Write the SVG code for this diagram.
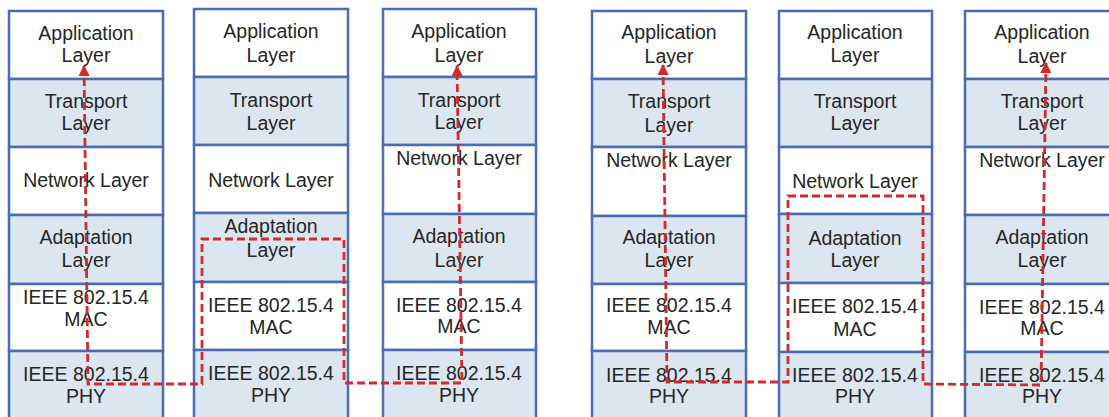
<svg xmlns="http://www.w3.org/2000/svg" width="1109" height="417" viewBox="0 0 1109 417">
  <style>
    .bg { fill: #ffffff; }
    .row { fill: #ffffff; stroke: #4a6cb3; stroke-width: 2.5; }
    .row.shade { fill: #dce6f1; }
    .lbl { font-family: "Liberation Sans", Arial, sans-serif; font-size: 19.5px; fill: #262626; text-anchor: middle; }
    .route { fill: none; stroke: #d42a2a; stroke-width: 2.8; stroke-dasharray: 8 4; }
  </style>
  <defs>
    <marker id="tip" viewBox="0 0 10 10" refX="9" refY="5" markerWidth="4" markerHeight="4" markerUnits="strokeWidth" orient="auto-start-reverse">
      <path d="M0,0 L10,5 L0,10 Z" fill="#d42a2a"/>
    </marker>
  </defs>
  <rect class="bg" x="0" y="0" width="1109" height="417"/>

  <!-- Stack 1: end host -->
  <g id="stack-host-a">
    <rect class="row" x="9" y="11" width="154" height="68"/>
    <rect class="row shade" x="9" y="79" width="154" height="68"/>
    <rect class="row" x="9" y="147" width="154" height="68"/>
    <rect class="row shade" x="9" y="215" width="154" height="69"/>
    <rect class="row" x="9" y="284" width="154" height="67"/>
    <rect class="row shade" x="9" y="351" width="154" height="80"/>
    <text class="lbl" x="86" y="40">Application</text>
    <text class="lbl" x="86" y="62">Layer</text>
    <text class="lbl" x="86" y="108">Transport</text>
    <text class="lbl" x="86" y="130">Layer</text>
    <text class="lbl" x="86" y="187">Network Layer</text>
    <text class="lbl" x="86" y="244">Adaptation</text>
    <text class="lbl" x="86" y="267">Layer</text>
    <text class="lbl" x="86" y="304">IEEE 802.15.4</text>
    <text class="lbl" x="86" y="326">MAC</text>
    <text class="lbl" x="86" y="381">IEEE 802.15.4</text>
    <text class="lbl" x="86" y="403">PHY</text>
  </g>

  <!-- Stack 2: mesh-under forwarder -->
  <g id="stack-mesh-under">
    <rect class="row" x="194" y="9" width="154" height="68"/>
    <rect class="row shade" x="194" y="77" width="154" height="68"/>
    <rect class="row" x="194" y="145" width="154" height="68"/>
    <rect class="row shade" x="194" y="213" width="154" height="69"/>
    <rect class="row" x="194" y="282" width="154" height="68"/>
    <rect class="row shade" x="194" y="350" width="154" height="80"/>
    <text class="lbl" x="271" y="38">Application</text>
    <text class="lbl" x="271" y="62">Layer</text>
    <text class="lbl" x="271" y="107">Transport</text>
    <text class="lbl" x="271" y="130">Layer</text>
    <text class="lbl" x="271" y="187">Network Layer</text>
    <text class="lbl" x="271" y="233">Adaptation</text>
    <text class="lbl" x="271" y="257">Layer</text>
    <text class="lbl" x="271" y="312">IEEE 802.15.4</text>
    <text class="lbl" x="271" y="334">MAC</text>
    <text class="lbl" x="271" y="380">IEEE 802.15.4</text>
    <text class="lbl" x="271" y="402">PHY</text>
  </g>

  <!-- Stack 3: end host -->
  <g id="stack-host-b">
    <rect class="row" x="383" y="9" width="153" height="68"/>
    <rect class="row shade" x="383" y="77" width="153" height="68"/>
    <rect class="row" x="383" y="145" width="153" height="69"/>
    <rect class="row shade" x="383" y="214" width="153" height="68"/>
    <rect class="row" x="383" y="282" width="153" height="68"/>
    <rect class="row shade" x="383" y="350" width="153" height="80"/>
    <text class="lbl" x="459" y="38">Application</text>
    <text class="lbl" x="459" y="62">Layer</text>
    <text class="lbl" x="459" y="107">Transport</text>
    <text class="lbl" x="459" y="129">Layer</text>
    <text class="lbl" x="459" y="165">Network Layer</text>
    <text class="lbl" x="459" y="243">Adaptation</text>
    <text class="lbl" x="459" y="267">Layer</text>
    <text class="lbl" x="459" y="312">IEEE 802.15.4</text>
    <text class="lbl" x="459" y="333">MAC</text>
    <text class="lbl" x="459" y="380">IEEE 802.15.4</text>
    <text class="lbl" x="459" y="402">PHY</text>
  </g>

  <!-- Stack 4: end host -->
  <g id="stack-host-c">
    <rect class="row" x="592" y="11" width="154" height="68"/>
    <rect class="row shade" x="592" y="79" width="154" height="68"/>
    <rect class="row" x="592" y="147" width="154" height="69"/>
    <rect class="row shade" x="592" y="216" width="154" height="68"/>
    <rect class="row" x="592" y="284" width="154" height="67"/>
    <rect class="row shade" x="592" y="351" width="154" height="80"/>
    <text class="lbl" x="669" y="39">Application</text>
    <text class="lbl" x="669" y="63">Layer</text>
    <text class="lbl" x="669" y="108">Transport</text>
    <text class="lbl" x="669" y="132">Layer</text>
    <text class="lbl" x="669" y="167">Network Layer</text>
    <text class="lbl" x="669" y="244">Adaptation</text>
    <text class="lbl" x="669" y="267">Layer</text>
    <text class="lbl" x="669" y="312">IEEE 802.15.4</text>
    <text class="lbl" x="669" y="334">MAC</text>
    <text class="lbl" x="669" y="382">IEEE 802.15.4</text>
    <text class="lbl" x="669" y="403">PHY</text>
  </g>

  <!-- Stack 5: route-over router -->
  <g id="stack-route-over">
    <rect class="row" x="779" y="11" width="153" height="68"/>
    <rect class="row shade" x="779" y="79" width="153" height="68"/>
    <rect class="row" x="779" y="147" width="153" height="67"/>
    <rect class="row shade" x="779" y="214" width="153" height="69"/>
    <rect class="row" x="779" y="283" width="153" height="69"/>
    <rect class="row shade" x="779" y="352" width="153" height="80"/>
    <text class="lbl" x="855" y="39">Application</text>
    <text class="lbl" x="855" y="62">Layer</text>
    <text class="lbl" x="855" y="108">Transport</text>
    <text class="lbl" x="855" y="130">Layer</text>
    <text class="lbl" x="855" y="188">Network Layer</text>
    <text class="lbl" x="855" y="245">Adaptation</text>
    <text class="lbl" x="855" y="267">Layer</text>
    <text class="lbl" x="855" y="313">IEEE 802.15.4</text>
    <text class="lbl" x="855" y="336">MAC</text>
    <text class="lbl" x="855" y="382">IEEE 802.15.4</text>
    <text class="lbl" x="855" y="403">PHY</text>
  </g>

  <!-- Stack 6: end host -->
  <g id="stack-host-d">
    <rect class="row" x="965" y="11" width="154" height="68"/>
    <rect class="row shade" x="965" y="79" width="154" height="68"/>
    <rect class="row" x="965" y="147" width="154" height="68"/>
    <rect class="row shade" x="965" y="215" width="154" height="69"/>
    <rect class="row" x="965" y="284" width="154" height="68"/>
    <rect class="row shade" x="965" y="352" width="154" height="80"/>
    <text class="lbl" x="1042" y="39">Application</text>
    <text class="lbl" x="1042" y="63">Layer</text>
    <text class="lbl" x="1042" y="108">Transport</text>
    <text class="lbl" x="1042" y="130">Layer</text>
    <text class="lbl" x="1042" y="167">Network Layer</text>
    <text class="lbl" x="1042" y="244">Adaptation</text>
    <text class="lbl" x="1042" y="267">Layer</text>
    <text class="lbl" x="1042" y="314">IEEE 802.15.4</text>
    <text class="lbl" x="1042" y="335">MAC</text>
    <text class="lbl" x="1042" y="382">IEEE 802.15.4</text>
    <text class="lbl" x="1042" y="403">PHY</text>
  </g>

  <!-- Packet paths -->
  <g id="connectors">
    <path class="route" marker-start="url(#tip)" marker-end="url(#tip)" d="M84,66 L88,384 L202,384 L202,239 L344,239 L344,383 L462,383 L457,66"/>
    <path class="route" marker-start="url(#tip)" marker-end="url(#tip)" d="M663,65 L667,382 L788,382 L788,196 L923,196 L923,384 L1041,385 L1046,63"/>
  </g>
</svg>
